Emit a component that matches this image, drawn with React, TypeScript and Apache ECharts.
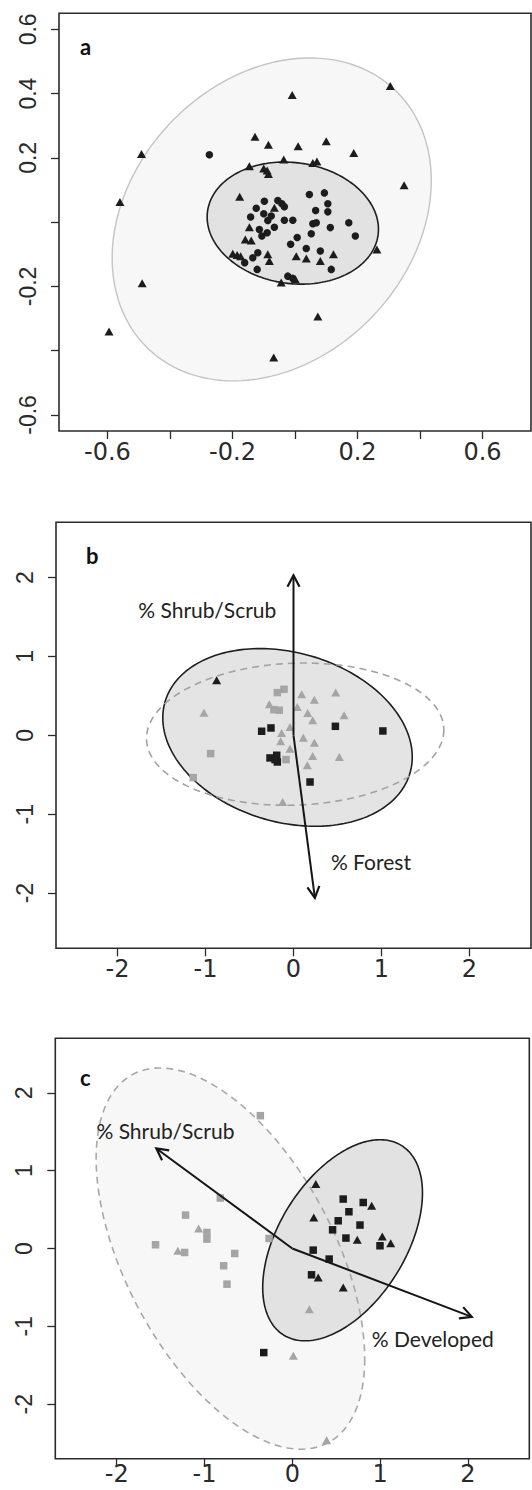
import React, { useEffect, useRef } from "react";
import * as echarts from "echarts";

// ---------- Panel a ----------
const aTriangles: number[][] = [
  [0.305, 0.424], [-0.009, 0.396], [-0.491, 0.212], [-0.128, 0.266], [-0.085, 0.241],
  [0.010, 0.236], [0.100, 0.252], [0.188, 0.215], [0.349, 0.115], [-0.560, 0.063],
  [-0.489, -0.190], [0.073, -0.294], [-0.595, -0.340], [-0.068, -0.421], [0.262, -0.085],
  [-0.036, 0.195], [-0.146, 0.174], [-0.100, 0.167], [-0.089, 0.161], [-0.085, 0.150],
  [-0.177, 0.079], [-0.066, 0.045], [-0.146, -0.016], [-0.159, -0.054], [-0.140, -0.057],
  [-0.199, -0.098], [-0.185, -0.102], [-0.174, -0.106], [-0.087, -0.100], [-0.082, -0.121],
  [0.004, -0.106], [0.036, -0.113], [-0.044, -0.188], [0.001, -0.178], [0.057, 0.184],
  [0.070, 0.189], [0.081, -0.121], [0.123, -0.100],
];
const aCircles: number[][] = [
  [-0.274, 0.210],
  [-0.098, 0.065], [-0.055, 0.067], [-0.042, 0.057], [-0.034, 0.048], [-0.124, 0.043],
  [-0.100, 0.026], [-0.076, 0.019], [-0.142, 0.016], [-0.087, 0.005], [-0.034, 0.006],
  [-0.007, 0.006], [-0.114, -0.023], [-0.066, -0.016], [-0.089, -0.033], [-0.106, -0.043],
  [0.007, -0.048], [-0.014, -0.069], [0.036, -0.082], [-0.119, -0.095], [-0.135, -0.111],
  [-0.161, -0.126], [-0.121, -0.147], [-0.023, -0.168], [-0.007, -0.175],
  [0.046, 0.086], [0.094, 0.091], [0.105, 0.057], [0.066, 0.036], [0.105, 0.032],
  [0.057, -0.005], [0.068, -0.002], [0.113, -0.017], [0.172, -0.002], [0.052, -0.036],
  [0.193, -0.043], [0.081, -0.090], [0.116, -0.147],
];
// ellipse: centre x, centre y, half width, half height, tilt (rho)
const aEllipses: number[][] = [
  [-0.0745, 0.0085, 0.5105, 0.5025, 0.24],
  [-0.007, -0.003, 0.274, 0.19, -0.1],
];
const aTicks = [-0.6, -0.4, -0.2, 0, 0.2, 0.4, 0.6];
const aXLabels = [-0.6, -0.2, 0.2, 0.6];
const aYLabels = [-0.6, -0.2, 0.2, 0.4, 0.6];

// ---------- Panel b ----------
const bBlackTriangles: number[][] = [[-0.874, 0.697]];
const bBlackSquares: number[][] = [
  [-0.362, 0.051], [-0.256, 0.093], [0.476, 0.114], [1.016, 0.055],
  [-0.267, -0.287], [-0.191, -0.253], [-0.184, -0.338], [-0.210, -0.308], [0.188, -0.592],
];
const bGreyTriangles: number[][] = [
  [0.093, 0.520], [0.237, 0.452], [0.480, 0.541], [-1.018, 0.287], [-0.275, 0.393],
  [0.043, 0.359], [0.161, 0.283], [0.218, 0.190], [0.575, 0.253], [-0.040, 0.106],
  [-0.134, 0.030], [-0.146, -0.076], [0.112, -0.030], [0.237, -0.093], [-0.040, -0.169],
  [0.218, -0.262], [0.521, -0.275], [0.157, -0.380], [-0.123, -0.845],
];
const bGreySquares: number[][] = [
  [-0.184, 0.541], [-0.108, 0.583], [-0.222, 0.325], [-0.162, 0.317],
  [-0.942, -0.232], [-0.085, -0.308], [-1.14, -0.536],
];
const bEllipses: number[][] = [
  [-0.068, -0.027, 1.418, 1.126, -0.22],
  [0.019, 0.0145, 1.69, 0.9015, 0.06],
];
const bArrows: number[][] = [[0, 0, 0, 2.028], [0, 0, 0.243, -2.062]];
const bArrowNames = ["% Shrub/Scrub", "% Forest"];
const bArrowLabelPos: number[][] = [[-0.98, 1.593], [0.88, -1.606]];

// ---------- Panel c ----------
const cBlackTriangles: number[][] = [
  [0.268, 0.828], [0.904, 0.549], [0.245, 0.398], [0.740, 0.112], [1.025, 0.154],
  [1.121, 0.069], [0.295, -0.373], [0.580, -0.501],
];
const cBlackSquares: number[][] = [
  [0.580, 0.635], [0.808, 0.591], [0.645, 0.472], [0.523, 0.356], [0.771, 0.301],
  [0.459, 0.240], [0.611, 0.134], [0.999, 0.035], [0.238, -0.021], [0.420, -0.136],
  [0.219, -0.338], [-0.325, -1.337],
];
const cGreyTriangles: number[][] = [
  [-1.067, 0.257], [-1.304, -0.030], [0.194, -0.779], [0.012, -1.379], [0.391, -2.463],
];
const cGreySquares: number[][] = [
  [-0.364, 1.706], [-0.82, 0.648], [-1.216, 0.429], [-0.973, 0.206], [-0.973, 0.121],
  [-1.558, 0.048], [-1.227, -0.051], [-0.656, -0.064], [-0.782, -0.222], [-0.744, -0.458],
  [-0.265, 0.129],
];
const cEllipses: number[][] = [
  [-0.705, -0.1295, 1.53, 2.4485, -0.525],
  [0.573, 0.1055, 0.91, 1.2915, 0.47],
];
const cArrows: number[][] = [[0, 0, -1.549, 1.285], [0, 0, 2.045, -0.878]];
const cArrowNames = ["% Shrub/Scrub", "% Developed"];
const cArrowLabelPos: number[][] = [[-1.445, 1.522], [1.6, -1.152]];

const bcTicks = [-2, -1, 0, 1, 2];
const panelLetters = ["a", "b", "c"];

const BLACK = "#1c1c1c";
const GREY = "#a5a5a5";
const AXIS = "#2b2b2b";

type EStyle = { fill: string; stroke: string; dash?: number[]; width: number };
const ellipseStyles: EStyle[][] = [
  [
    { fill: "#f7f7f7", stroke: "#c4c4c4", width: 1.4 },
    { fill: "#e2e2e2", stroke: "#1e1e1e", width: 1.6 },
  ],
  [
    { fill: "#e4e4e4", stroke: "#1e1e1e", width: 1.6 },
    { fill: "none", stroke: "#a2a2a2", dash: [7, 5], width: 1.6 },
  ],
  [
    { fill: "#f7f7f7", stroke: "#a8a8a8", dash: [7, 5], width: 1.6 },
    { fill: "#e2e2e2", stroke: "#1e1e1e", width: 1.6 },
  ],
];

function ellipsePts(api: any): number[][] {
  const cx = api.value(0), cy = api.value(1), w = api.value(2), h = api.value(3), rho = api.value(4);
  const d = Math.acos(rho);
  const pts: number[][] = [];
  const n = 200;
  for (let i = 0; i < n; i++) {
    const t = (i / n) * Math.PI * 2;
    pts.push(api.coord([cx + w * Math.cos(t), cy + h * Math.cos(t + d)]));
  }
  return pts;
}

function ellipseSeries(idx: number, data: number[][], pass: "fill" | "stroke") {
  return {
    type: "custom",
    coordinateSystem: "cartesian2d",
    xAxisIndex: idx,
    yAxisIndex: idx,
    silent: true,
    z: pass === "fill" ? 1 : 2,
    dimensions: ["x", "y", "w", "h", "r"],
    encode: { x: 0, y: 1 },
    data,
    renderItem: (params: any, api: any) => {
      const st = ellipseStyles[idx][params.dataIndex];
      const pts = ellipsePts(api);
      if (pass === "fill") {
        if (st.fill === "none") return null;
        return { type: "polygon", shape: { points: pts }, style: { fill: st.fill, stroke: null } };
      }
      return {
        type: "polygon",
        shape: { points: pts },
        style: { fill: null, stroke: st.stroke, lineWidth: st.width, lineDash: st.dash || null },
      };
    },
  };
}

function scatter(idx: number, data: number[][], symbol: string, color: string, size: any) {
  return {
    type: "scatter",
    xAxisIndex: idx,
    yAxisIndex: idx,
    data,
    symbol,
    symbolSize: size,
    itemStyle: { color, opacity: 1 },
    silent: true,
    z: 3,
  };
}

function arrowSeries(idx: number, data: number[][]) {
  return {
    type: "custom",
    coordinateSystem: "cartesian2d",
    xAxisIndex: idx,
    yAxisIndex: idx,
    silent: true,
    z: 4,
    dimensions: ["x0", "y0", "x1", "y1"],
    encode: { x: [0, 2], y: [1, 3] },
    data,
    renderItem: (_p: any, api: any) => {
      const p0 = api.coord([api.value(0), api.value(1)]);
      const p1 = api.coord([api.value(2), api.value(3)]);
      const ang = Math.atan2(p1[1] - p0[1], p1[0] - p0[0]);
      const L = 13;
      const A = Math.PI / 6.5;
      const h1 = [p1[0] - L * Math.cos(ang - A), p1[1] - L * Math.sin(ang - A)];
      const h2 = [p1[0] - L * Math.cos(ang + A), p1[1] - L * Math.sin(ang + A)];
      return {
        type: "group",
        children: [
          { type: "line", shape: { x1: p0[0], y1: p0[1], x2: p1[0], y2: p1[1] }, style: { stroke: "#151515", lineWidth: 2 } },
          { type: "polyline", shape: { points: [h1, p1, h2] }, style: { stroke: "#151515", lineWidth: 2.2, fill: null } },
        ],
      };
    },
  };
}

function labelSeries(idx: number, pos: number[][], names: string[]) {
  return {
    type: "custom",
    coordinateSystem: "cartesian2d",
    xAxisIndex: idx,
    yAxisIndex: idx,
    silent: true,
    z: 5,
    encode: { x: 0, y: 1 },
    data: pos,
    renderItem: (params: any, api: any) => {
      const p = api.coord([api.value(0), api.value(1)]);
      return {
        type: "text",
        x: p[0],
        y: p[1],
        style: {
          text: names[params.dataIndex],
          fontFamily: "Lato",
          fontSize: 21,
          fill: "#222",
          align: "center",
          verticalAlign: "middle",
        },
      };
    },
  };
}

const grids = [
  { left: 59, top: 13.3, width: 472, height: 417.7 },
  { left: 56, top: 522.3, width: 475, height: 426 },
  { left: 55.3, top: 1038.3, width: 474, height: 420.4 },
];
const ranges = [
  { x: 0.755, y: 0.65 },
  { x: 2.7, y: 2.7 },
  { x: 2.7, y: 2.7 },
];
const xLabelMargins = [9, 9, 3];

function fmt(v: number, idx: number) {
  return idx === 0 ? v.toFixed(1) : String(Math.round(v));
}

function buildOption() {
  const xAxis: any[] = [];
  const yAxis: any[] = [];
  for (let i = 0; i < 3; i++) {
    const ticks = i === 0 ? aTicks : bcTicks;
    const xl = i === 0 ? aXLabels : bcTicks;
    const yl = i === 0 ? aYLabels : bcTicks;
    xAxis.push({
      type: "value",
      gridIndex: i,
      position: "bottom",
      min: -ranges[i].x,
      max: ranges[i].x,
      axisLine: { show: false, onZero: false },
      splitLine: { show: false },
      axisTick: { show: true, inside: false, length: 8, customValues: ticks, lineStyle: { color: AXIS, width: 1.3 } },
      axisLabel: {
        show: true,
        customValues: xl,
        formatter: (v: number) => fmt(v, i),
        fontFamily: "DejaVu Sans",
        fontSize: 24,
        lineHeight: 24,
        color: "#2a2a2a",
        margin: xLabelMargins[i],
      },
    });
    yAxis.push({
      type: "value",
      gridIndex: i,
      position: "left",
      min: -ranges[i].y,
      max: ranges[i].y,
      axisLine: { show: false, onZero: false },
      splitLine: { show: false },
      axisTick: { show: true, inside: false, length: 8, customValues: ticks, lineStyle: { color: AXIS, width: 1.3 } },
      axisLabel: {
        show: true,
        customValues: yl,
        formatter: (v: number) => fmt(v, i),
        rotate: 90,
        fontFamily: "Liberation Sans",
        fontSize: 23,
        color: "#2a2a2a",
        margin: 20,
      },
    });
  }
  const series: any[] = [
    ellipseSeries(0, aEllipses, "fill"),
    ellipseSeries(0, aEllipses, "stroke"),
    scatter(0, aTriangles, "triangle", BLACK, [9, 8]),
    scatter(0, aCircles, "circle", BLACK, 7.5),

    ellipseSeries(1, bEllipses, "fill"),
    ellipseSeries(1, bEllipses, "stroke"),
    scatter(1, bGreyTriangles, "triangle", GREY, [9, 8]),
    scatter(1, bGreySquares, "rect", GREY, 7.5),
    scatter(1, bBlackSquares, "rect", BLACK, 7.5),
    scatter(1, bBlackTriangles, "triangle", BLACK, [9, 8]),
    arrowSeries(1, bArrows),
    labelSeries(1, bArrowLabelPos, bArrowNames),

    ellipseSeries(2, cEllipses, "fill"),
    ellipseSeries(2, cEllipses, "stroke"),
    scatter(2, cGreyTriangles, "triangle", GREY, [9, 8]),
    scatter(2, cGreySquares, "rect", GREY, 7.5),
    scatter(2, cBlackSquares, "rect", BLACK, 7.5),
    scatter(2, cBlackTriangles, "triangle", BLACK, [9, 8]),
    arrowSeries(2, cArrows),
    labelSeries(2, cArrowLabelPos, cArrowNames),
  ];
  const letterPos = [
    [80, 46.5],
    [86, 555.5],
    [80, 1077],
  ];
  const graphic = panelLetters.map((t, i) => ({
    type: "text",
    x: letterPos[i][0],
    y: letterPos[i][1],
    z: 10,
    style: { text: t, fontFamily: "Lato", fontWeight: "bold", fontSize: 22, fill: "#111", align: "left", verticalAlign: "middle" },
  }));
  return {
    animation: false,
    backgroundColor: "#ffffff",
    grid: grids.map((g) => ({ ...g, show: true, borderColor: AXIS, borderWidth: 1.6, backgroundColor: "transparent", containLabel: false })),
    xAxis,
    yAxis,
    series,
    graphic,
  };
}

export default function App() {
  const ref = useRef<HTMLDivElement>(null);
  useEffect(() => {
    if (!ref.current) return;
    const chart = echarts.init(ref.current, null, { renderer: "svg" });
    chart.setOption(buildOption() as any);
    return () => chart.dispose();
  }, []);
  return <div ref={ref} style={{ position: "absolute", left: 0, top: 0, width: 532, height: 1490, background: "#fff" }} />;
}
